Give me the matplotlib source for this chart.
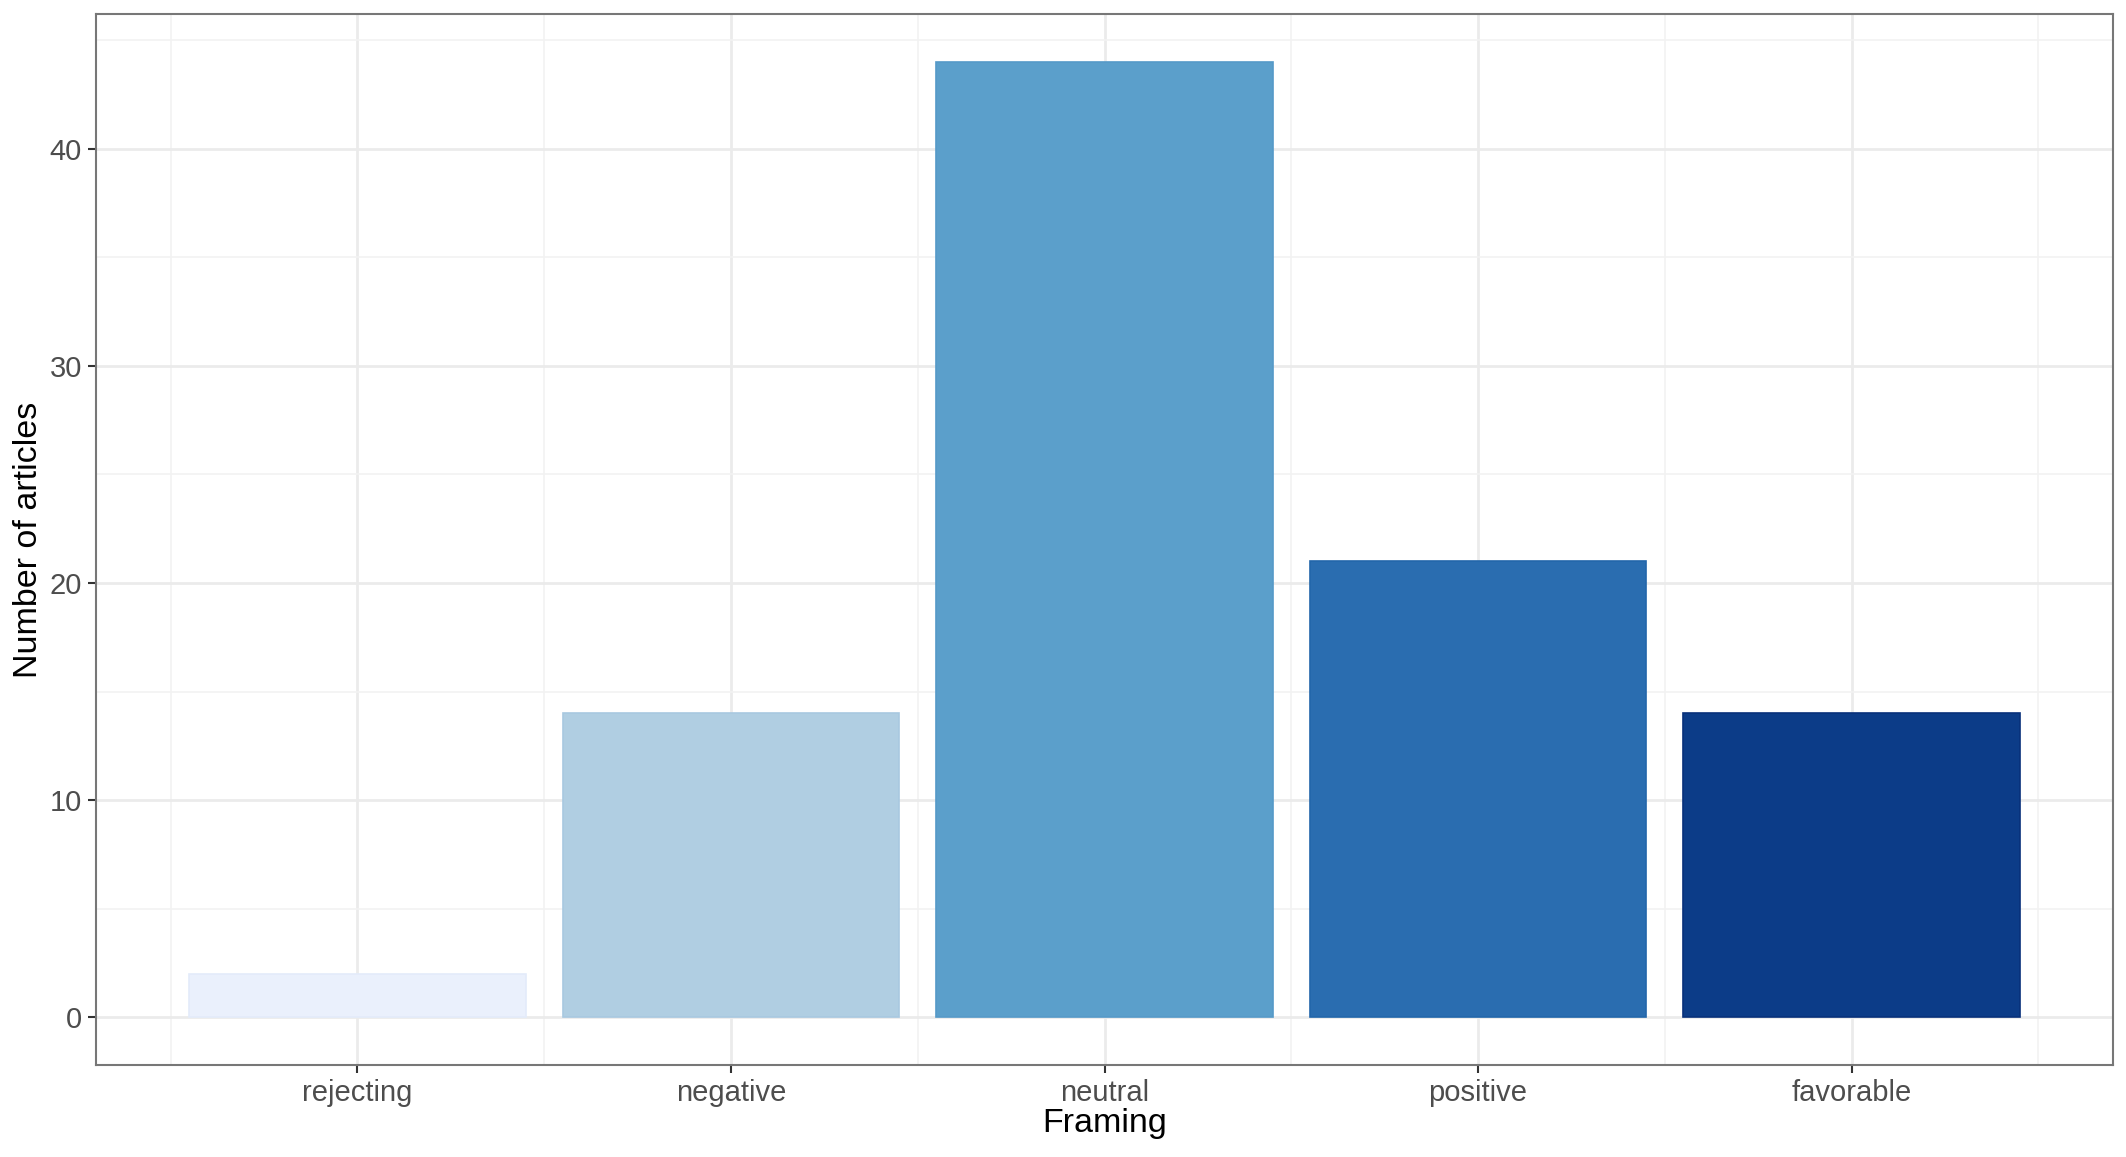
import matplotlib.pyplot as plt
import numpy as np
from matplotlib.ticker import MultipleLocator, FixedLocator

categories = ["rejecting", "negative", "neutral", "positive", "favorable"]
counts = [2, 14, 44, 21, 14]
colors = ["#EAF0FC", "#B0CEE2", "#5B9FCB", "#2A6DB0", "#0C3C88"]
edges = ["#E3EBFA", "#A8C8E0", "#5599C8", "#2266AA", "#08307A"]

plt.rcParams["font.family"] = ["Liberation Sans", "DejaVu Sans"]

fig = plt.figure(figsize=(21.26, 11.57), dpi=100)
ax = fig.add_axes([96 / 2126, 1 - 1065 / 1157, (2113 - 96) / 2126, (1065 - 14) / 1157])

x = np.arange(1, len(categories) + 1)
ax.bar(x, counts, width=0.9, color=colors, edgecolor=edges, linewidth=1.2, zorder=3)

ax.set_xlim(0.3, 5.7)
ax.set_ylim(-2.2, 46.2)

ax.set_xticks(x)
ax.set_xticklabels(categories)
ax.xaxis.set_minor_locator(FixedLocator(np.arange(0.5, 6.0, 1.0)))
ax.yaxis.set_major_locator(MultipleLocator(10))
ax.yaxis.set_minor_locator(FixedLocator([5, 15, 25, 35, 45]))

ax.grid(which="major", color="#EBEBEB", linewidth=2.0, zorder=0)
ax.grid(which="minor", color="#F2F2F2", linewidth=1.2, zorder=0)
ax.set_axisbelow(True)

ax.tick_params(axis="both", which="major", labelsize=21, colors="#333333",
               labelcolor="#4D4D4D", length=6, width=1.5, pad=4)
ax.tick_params(axis="both", which="minor", length=0)

for s in ax.spines.values():
    s.set_color("#777777")
    s.set_linewidth(1.5)

ax.set_xlabel("Framing", fontsize=24.5, labelpad=1)
ax.set_ylabel("Number of articles", fontsize=24.5, labelpad=4)

fig.savefig("out.png", dpi=100, facecolor="white")
